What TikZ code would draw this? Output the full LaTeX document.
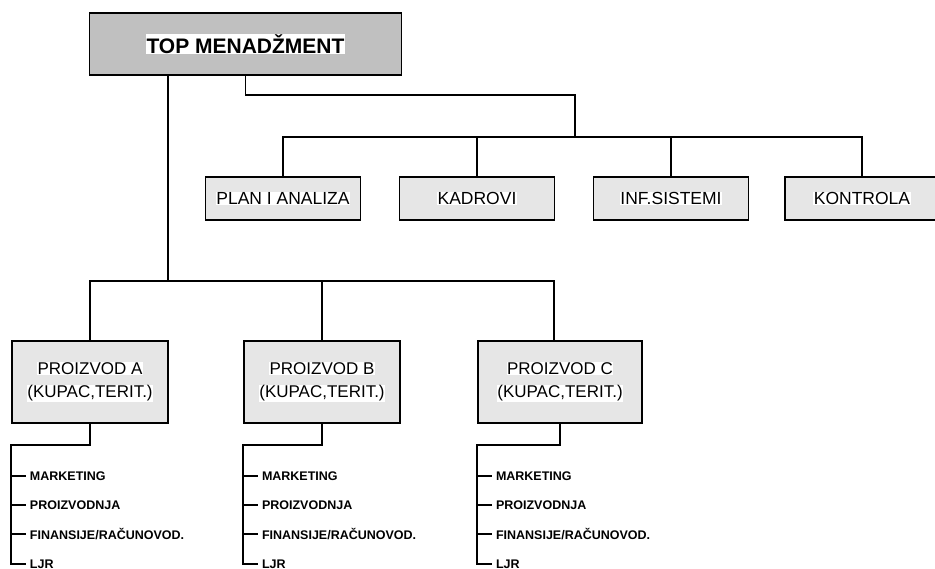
\documentclass[tikz,border=0pt]{standalone}
\usepackage{fontspec}
\setmainfont{Liberation Sans}
\usetikzlibrary{calc,
                positioning}
\definecolor{topgray}{HTML}{C0C0C0}
\definecolor{boxgray}{HTML}{E6E6E6}
\newcommand\wb[1]{{\setlength{\fboxsep}{0.5pt}\colorbox{white}{#1}}}

\begin{document}
\begin{tikzpicture}[
            x = 1pt, y = -1pt,
   line width = 1.6pt,
     T/.style = {draw, fill=topgray, minimum width=312pt, minimum height=62pt,
                 inner sep=0pt, font=\bfseries\fontsize{21}{24}\selectfont},
     S/.style = {draw, fill=boxgray, minimum width=155pt, minimum height=43pt,
                 inner sep=0pt, font=\fontsize{17.5}{20}\selectfont},
     P/.style = {draw, fill=boxgray, minimum width=156pt, minimum height=82pt,
                 inner sep=0pt, align=center, font=\fontsize{17}{23}\selectfont},
     L/.style = {anchor=west, inner sep=0pt, font=\bfseries\fontsize{12.5}{14}\selectfont}
                    ]
\clip (0,0) rectangle (935,569);
% top
\node (top) [T] at (245.5,44) {\wb{TOP MENADŽMENT}};
% staff
\node (plan)     [S] at (283,198.5) {\wb{PLAN I ANALIZA}};
\node (kadrovi)  [S] at (477,198.5) {\wb{KADROVI}};
\node (inf)      [S] at (671,198.5) {\wb{INF.SISTEMI}};
\node (kontrola) [S, minimum width=154pt] at (862,198.5) {\wb{KONTROLA}};
% products
\node (pa) [P] at (90,382)  {\wb{PROIZVOD A}\\\wb{(KUPAC,TERIT.)}};
\node (pb) [P] at (322,382) {\wb{PROIZVOD B}\\\wb{(KUPAC,TERIT.)}};
\node (pc) [P, minimum width=164pt] at (560,382) {\wb{PROIZVOD C}\\\wb{(KUPAC,TERIT.)}};
%
\coordinate (sbus) at (575,137);
\coordinate (pbus) at (168,281);
\draw (top.south) -- ++(0,19) -| (sbus);
\draw (plan.north) |- (sbus) -| (kontrola.north);
\draw (kadrovi.north) -- (kadrovi.north |- sbus);
\draw (inf.north) -- (inf.north |- sbus);
\draw (top.south -| pbus) -- (pbus);
\draw (pa.north) |- (pbus) -| ($(pc.north)+(-6,0)$);
\draw (pb.north) -- (pb.north |- pbus);
%
\foreach \p in {pa,pb,pc}{
  \coordinate (\p-bend) at ($(\p.south)+(0,21)$);
  \coordinate (\p-end)  at ($(\p.south west)+(0,140)$);
  \draw (\p.south) -- (\p-bend) -| (\p-end) -- ++(15,0)
        node[L, right=3pt] (\p-4) {LJR};
  \foreach \t/\dy [count=\i] in {MARKETING/52, PROIZVODNJA/81, {FINANSIJE/RAČUNOVOD.}/110}{
    \draw ($(\p-bend -| \p-end)+(0,\dy-21)$) coordinate (\p-t\i) -- ++(15,0)
          node[L, right=3pt] (\p-\i) {\t};
  }
}
\end{tikzpicture}
\end{document}
